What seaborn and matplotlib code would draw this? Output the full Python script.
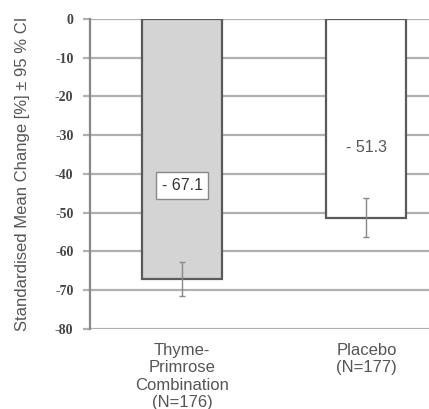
import matplotlib
matplotlib.use("Agg")
import matplotlib.pyplot as plt
import seaborn as sns
import pandas as pd
import numpy as np

# Data
groups = ["Thyme-\nPrimrose\nCombination\n(N=176)", "Placebo\n(N=177)"]
mean_change = [-67.1, -51.3]
ci_lower = [-71.5, -56.3]
ci_upper = [-62.7, -46.2]
value_labels = ["- 67.1", "- 51.3"]
label_pos = [-43.0, -33.3]
y_ticks = [0, -10, -20, -30, -40, -50, -60, -70, -80]

sns.set_style("white")
plt.rcParams['font.family'] = ['Liberation Sans', 'DejaVu Sans']

df = pd.DataFrame({"group": groups, "change": mean_change})

fig = plt.figure(figsize=(4.29, 4.09), dpi=100)
ax = fig.add_axes([0.21, 0.196, 0.79, 0.758])

# Grid first so bars sit above
for t in y_ticks:
    ax.axhline(t, color="#b0b0b0", lw=1.6, zorder=0)

sns.barplot(data=df, x="group", y="change", hue="group",
            palette=["#d4d4d4", "#ffffff"], width=0.435,
            edgecolor="#5a5a5a", linewidth=1.6, errorbar=None,
            legend=False, ax=ax, zorder=2)

means = np.array(mean_change)
yerr = np.vstack([means - np.array(ci_lower), np.array(ci_upper) - means])
ax.errorbar(range(len(groups)), means, yerr=yerr, fmt="none",
            ecolor="#888888", elinewidth=1.0, capsize=2.5, capthick=1.0, zorder=3)

# Value labels
ax.text(0, label_pos[0], value_labels[0], ha="center", va="center",
        fontsize=11.5, color="#333333", zorder=4,
        bbox=dict(boxstyle="square,pad=0.35", fc="white", ec="#888888", lw=1.0))
ax.text(1, label_pos[1], value_labels[1], ha="center", va="center",
        fontsize=11.5, color="#555555", zorder=4)

ax.set_ylim(-80, 0)
ax.set_xlim(-0.5, 1.34)
ax.set_yticks(y_ticks)
ax.set_yticklabels([str(t) for t in y_ticks], family="Liberation Serif",
                   fontweight="bold", fontsize=10, color="#444444")
ax.tick_params(axis="y", length=5, width=1.6, color="#b0b0b0", pad=7, left=True)
ax.tick_params(axis="x", length=0, pad=10, labelsize=12, labelcolor="#555555")
ax.set_xlabel("")
ax.set_ylabel("Standardised Mean Change [%] ± 95 % CI", fontsize=12,
              color="#555555", labelpad=18)

for s in ["top", "right", "bottom"]:
    ax.spines[s].set_visible(False)
ax.spines["left"].set_color("#888888")
ax.spines["left"].set_linewidth(1.6)

fig.savefig("out.png", dpi=100)
